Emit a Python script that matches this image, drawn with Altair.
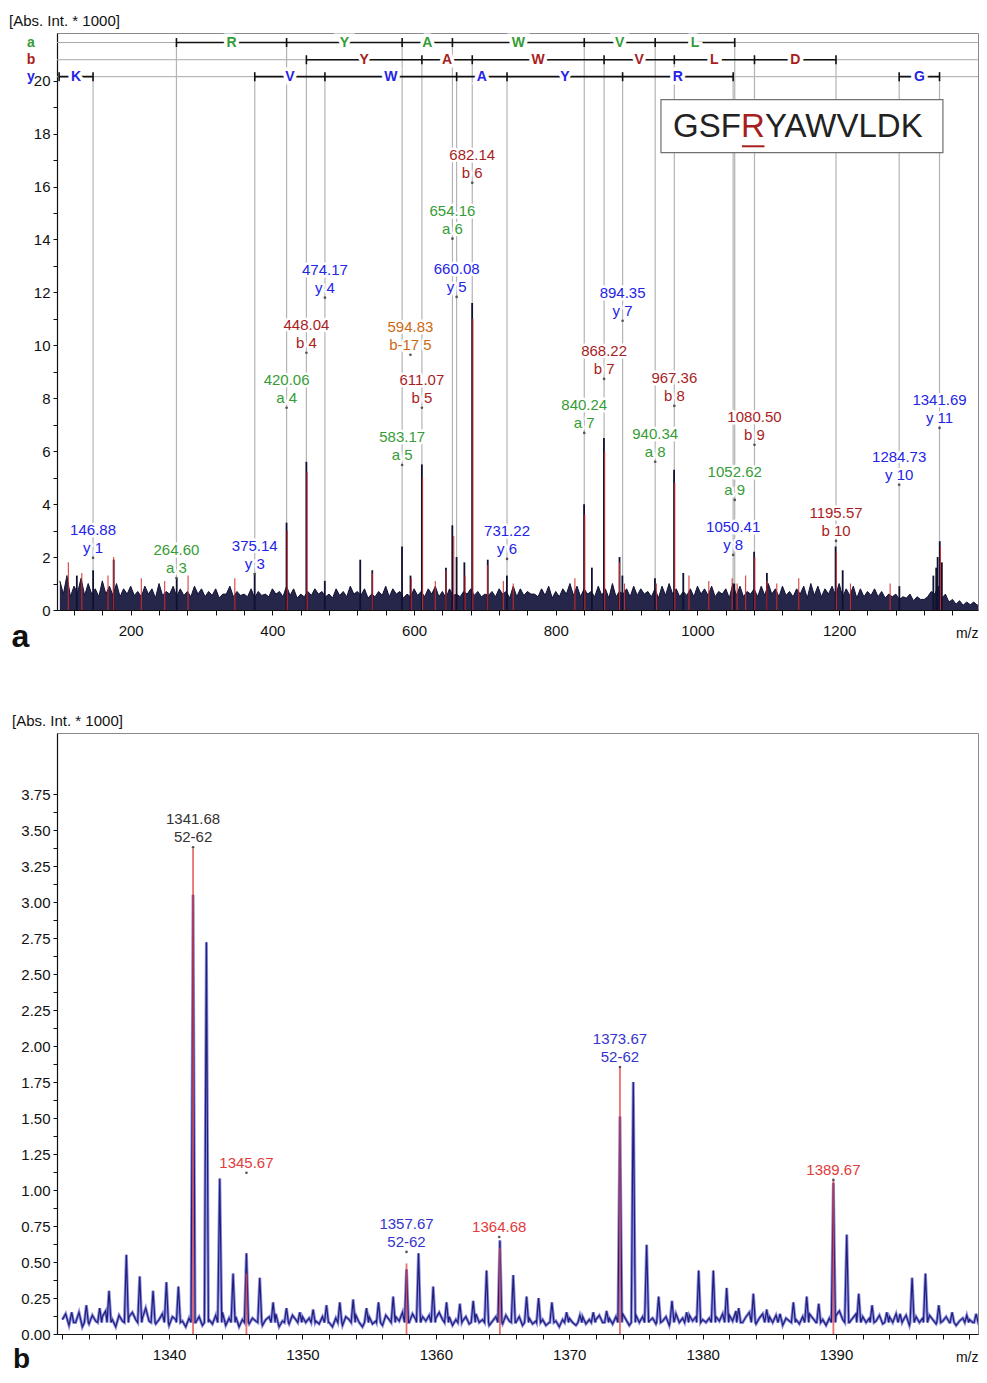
import altair as alt
import pandas as pd

FONT = "Liberation Sans"

# ====================== panel a : MS/MS spectrum ======================
A_XDOM = [96, 1396]
A_YDOM = [0, 21.8]
NOISE_A_START = 100

# noise envelope (tops every 10 m/z from 100, valleys every 10 m/z from 105)
noise_a_hi = [1.1, 1.3, 0.9, 1.2, 1.0, 0.8, 1.1, 0.9, 1.0, 0.8, 0.9, 0.7, 0.9, 0.8, 1.0, 0.7, 0.9, 0.8, 0.7, 0.9, 0.8,
              0.7, 0.8, 0.6, 0.9, 0.7, 0.6, 0.8, 0.7, 0.6, 0.8, 0.7, 0.9, 0.8, 0.6, 0.7, 0.8, 0.7, 0.6, 0.8, 0.7,
              0.9, 0.7, 0.8, 0.6, 0.7, 0.9, 0.8, 0.7, 0.6, 0.8, 0.7, 0.8, 0.9, 0.7, 0.8, 0.6, 0.7, 0.8, 0.7, 0.6,
              0.7, 0.8, 0.7, 0.9, 0.8, 0.7, 0.6, 0.8, 0.9, 0.7, 0.8, 1.0, 0.9, 0.8, 0.7, 0.9, 0.8, 1.0, 0.7, 0.8,
              0.9, 0.8, 0.7, 0.8, 0.9, 1.0, 0.8, 0.7, 0.8, 0.9,
              0.8, 0.9, 0.7, 0.8, 1.0, 0.9, 0.7, 0.8, 0.9, 1.0, 0.8, 0.9, 0.7, 0.8, 0.9, 1.0, 0.9, 0.8, 0.9, 1.0,
              0.8, 0.9, 0.8, 0.7, 0.8,
              0.7, 0.6, 0.6, 0.5, 0.6, 0.5, 0.4, 0.7, 0.9, 0.6, 0.4, 0.35, 0.3, 0.3, 0.3]
noise_a_lo = [0.6, 0.5, 0.65, 0.55, 0.6, 0.5, 0.6, 0.55, 0.5, 0.6, 0.55, 0.5, 0.6, 0.45, 0.55, 0.6, 0.5, 0.55, 0.5, 0.6,
              0.5, 0.55, 0.45, 0.6, 0.5, 0.55, 0.5, 0.45, 0.55, 0.5, 0.6, 0.5, 0.55, 0.45, 0.5, 0.55, 0.6, 0.5, 0.45, 0.55,
              0.5, 0.6, 0.55, 0.45, 0.5, 0.55, 0.5, 0.6, 0.45, 0.5, 0.55, 0.5, 0.6, 0.5, 0.45, 0.55, 0.5, 0.6, 0.55, 0.5,
              0.55, 0.5, 0.6, 0.45, 0.5, 0.55, 0.6, 0.5, 0.55, 0.45, 0.5, 0.6, 0.55, 0.5, 0.6, 0.5, 0.55, 0.45, 0.5, 0.6,
              0.5, 0.55, 0.6, 0.5, 0.45, 0.55, 0.6, 0.5, 0.55, 0.5, 0.6, 0.55, 0.5, 0.6, 0.45, 0.55, 0.5, 0.6, 0.5, 0.55,
              0.6, 0.5, 0.55, 0.5, 0.6, 0.45, 0.55, 0.5, 0.6, 0.55, 0.5, 0.55, 0.45, 0.5, 0.55, 0.5, 0.45, 0.5, 0.4, 0.45,
              0.35, 0.4, 0.5, 0.6, 0.45, 0.3, 0.22, 0.18, 0.2, 0.18]

peak_a_mz = [124, 147, 176, 265, 375, 420, 448, 474, 524, 541,
             583, 595, 611, 645, 654, 660, 671, 682, 704, 731,
             840, 851, 868, 890, 894, 940, 967, 980, 1052, 1080,
             1098, 1195, 1205, 1285, 1333, 1337, 1339, 1342, 1345]
peak_a_int = [1.3, 1.5, 1.9, 1.2, 1.4, 3.3, 5.6, 1.1, 1.9, 1.5,
              2.4, 1.3, 5.5, 1.6, 3.2, 2.0, 1.8, 11.6, 1.9, 1.3,
              4.0, 1.6, 6.5, 2.0, 1.3, 1.2, 5.3, 1.4, 1.0, 2.2,
              1.4, 2.4, 1.5, 0.9, 1.3, 1.6, 2.0, 2.6, 1.8]

red_a_mz = [112, 131, 168, 176, 215, 248, 281, 347, 421, 449, 541, 596, 612, 630, 645, 656, 672, 683,
            704, 726, 740, 827, 841, 869, 890, 897, 942, 968, 988, 1016, 1049, 1056, 1068, 1081, 1098,
            1112, 1143, 1196, 1216, 1272, 1343]
red_a_int = [1.8, 1.4, 1.3, 2.0, 1.2, 1.1, 1.3, 1.2, 3.0, 5.2, 1.4, 1.2, 5.0, 1.1, 1.5, 2.8, 1.3, 11.0,
             1.7, 1.1, 1.0, 1.2, 3.6, 6.0, 1.8, 1.0, 1.0, 4.8, 1.3, 1.1, 1.2, 1.0, 1.3, 2.0, 1.1,
             1.0, 1.2, 2.2, 1.0, 1.0, 2.4]

ann_a_mz = [146.88, 264.60, 375.14, 420.06, 448.04, 474.17, 583.17, 594.83, 611.07, 654.16, 660.08, 682.14,
            731.22, 840.24, 868.22, 894.35, 940.34, 967.36, 1050.41, 1052.62, 1080.50, 1195.57, 1284.73, 1341.69]
ann_a_ion = ["y 1", "a 3", "y 3", "a 4", "b 4", "y 4", "a 5", "b-17 5", "b 5", "a 6", "y 5", "b 6",
             "y 6", "a 7", "b 7", "y 7", "a 8", "b 8", "y 8", "a 9", "b 9", "b 10", "y 10", "y 11"]
ann_a_series = ["y", "a", "y", "a", "b", "y", "a", "b-17", "b", "a", "y", "b",
                "y", "a", "b", "y", "a", "b", "y", "a", "b", "b", "y", "y"]
ann_a_level = [1.97, 1.21, 1.36, 7.64, 9.72, 11.8, 5.48, 9.64, 7.64, 14.03, 11.83, 16.14,
               1.93, 6.69, 8.73, 10.93, 5.60, 7.71, 2.08, 4.16, 6.24, 2.61, 4.73, 6.88]

ladder_rows = ["a", "b", "y"]
ladder_levels = [21.44, 20.79, 20.15]
ladder_row = ["a"] * 6 + ["b"] * 6 + ["y"] * 7
ladder_start = [264.60, 420.06, 583.17, 654.16, 840.24, 940.34,
                448.04, 611.07, 682.14, 868.22, 967.36, 1080.50,
                99.0, 375.14, 474.17, 660.08, 731.22, 894.35, 1284.73]
ladder_end = [420.06, 583.17, 654.16, 840.24, 940.34, 1052.62,
              611.07, 682.14, 868.22, 967.36, 1080.50, 1195.57,
              146.88, 474.17, 660.08, 731.22, 894.35, 1050.41, 1341.69]
ladder_res = ["R", "Y", "A", "W", "V", "L",
              "Y", "A", "W", "V", "L", "D",
              "K", "V", "W", "A", "Y", "R", "G"]

sequence_parts = ["GSF", "R", "YAWVLDK"]

# ====================== panel b : MS spectrum ======================
B_XDOM = [1331.6, 1400.64]
B_YDOM = [0, 4.174]
NOISE_B_START = 1332.0

noise_b = [0.10, 0.14, 0.06, 0.12, 0.08, 0.15, 0.05, 0.11, 0.07, 0.13, 0.09, 0.06, 0.12, 0.16, 0.08, 0.10, 0.05, 0.13, 0.09, 0.07,
           0.12, 0.15, 0.10, 0.06, 0.11, 0.18, 0.09, 0.13, 0.07, 0.10, 0.14, 0.08, 0.06, 0.12, 0.10, 0.16, 0.09, 0.05, 0.11, 0.13,
           0.08, 0.12, 0.06, 0.14, 0.10, 0.07, 0.13, 0.09, 0.15, 0.06, 0.11, 0.08, 0.12, 0.05, 0.10, 0.14, 0.07, 0.11, 0.09, 0.13,
           0.06, 0.10, 0.12, 0.08, 0.14, 0.05, 0.09, 0.11, 0.07, 0.13, 0.10, 0.06, 0.12, 0.08, 0.11, 0.15, 0.09, 0.07, 0.12, 0.10,
           0.08, 0.05, 0.11, 0.09, 0.06, 0.12, 0.10, 0.07, 0.13, 0.08, 0.05, 0.10, 0.12, 0.07, 0.09, 0.11, 0.06, 0.13, 0.10, 0.08,
           0.12, 0.09, 0.15, 0.11, 0.08, 0.14, 0.10, 0.16, 0.12, 0.09, 0.13, 0.07, 0.11, 0.15, 0.10, 0.08, 0.12, 0.06, 0.10, 0.13,
           0.09, 0.12, 0.07, 0.11, 0.14, 0.08, 0.10, 0.13, 0.06, 0.09, 0.12, 0.10, 0.07, 0.13, 0.09, 0.11, 0.08, 0.12, 0.06, 0.10,
           0.11, 0.07, 0.09, 0.13, 0.10, 0.06, 0.08, 0.12, 0.09, 0.05, 0.10, 0.07, 0.11, 0.08, 0.06, 0.09, 0.12, 0.07, 0.10, 0.08,
           0.10, 0.13, 0.08, 0.15, 0.11, 0.07, 0.12, 0.09, 0.14, 0.10, 0.06, 0.11, 0.13, 0.08, 0.12, 0.16, 0.09, 0.11, 0.07, 0.13,
           0.09, 0.12, 0.06, 0.10, 0.14, 0.08, 0.11, 0.07, 0.13, 0.09, 0.12, 0.15, 0.10, 0.08, 0.11, 0.06, 0.12, 0.09, 0.14, 0.10,
           0.13, 0.09, 0.16, 0.11, 0.08, 0.12, 0.15, 0.10, 0.07, 0.11, 0.14, 0.09, 0.12, 0.08, 0.13, 0.10, 0.06, 0.11, 0.09, 0.12,
           0.10, 0.07, 0.12, 0.09, 0.14, 0.11, 0.08, 0.13, 0.10, 0.06, 0.11, 0.09, 0.13, 0.16, 0.10, 0.12, 0.08, 0.11, 0.14, 0.09,
           0.12, 0.08, 0.11, 0.15, 0.09, 0.13, 0.07, 0.10, 0.12, 0.08, 0.14, 0.11, 0.09, 0.13, 0.06, 0.10, 0.12, 0.08, 0.11, 0.09,
           0.13, 0.10, 0.07, 0.11, 0.09, 0.12, 0.08, 0.10, 0.06, 0.09, 0.11, 0.07, 0.10, 0.08, 0.06, 0.09, 0.07]

peak_b_mz = [1332.7, 1333.8, 1334.8, 1335.5, 1336.8, 1337.8, 1338.8, 1339.8, 1340.7, 1341.8,
             1342.8, 1343.8, 1344.8, 1345.8, 1346.8, 1347.8, 1348.8, 1349.8, 1350.8, 1351.8,
             1352.8, 1353.8, 1354.8, 1355.7, 1356.8, 1357.8, 1358.7, 1359.8, 1360.8, 1361.8,
             1362.8, 1363.8, 1364.8, 1365.8, 1366.8, 1367.7, 1368.7, 1369.8, 1370.8, 1371.8,
             1372.8, 1373.8, 1374.8, 1375.8, 1376.7, 1377.7, 1378.8, 1379.7, 1380.8, 1381.8,
             1382.7, 1383.8, 1384.8, 1385.8, 1386.8, 1387.8, 1388.7, 1389.8, 1390.8, 1391.7,
             1392.7, 1393.8, 1394.8, 1395.7, 1396.7, 1397.7, 1398.7, 1399.8, 1400.5]
peak_b_int = [0.15, 0.2, 0.18, 0.3, 0.55, 0.4, 0.3, 0.36, 0.33, 3.05,
              2.72, 1.08, 0.42, 0.56, 0.39, 0.22, 0.18, 0.15, 0.17, 0.2,
              0.22, 0.24, 0.18, 0.22, 0.26, 0.45, 0.56, 0.33, 0.22, 0.21,
              0.23, 0.44, 0.65, 0.41, 0.26, 0.25, 0.22, 0.15, 0.13, 0.15,
              0.16, 1.51, 1.75, 0.62, 0.26, 0.23, 0.15, 0.44, 0.44, 0.32,
              0.18, 0.28, 0.17, 0.14, 0.22, 0.26, 0.21, 1.05, 0.69, 0.28,
              0.2, 0.15, 0.14, 0.39, 0.42, 0.2, 0.15, 0.13, 0.14]

red_b_mz = [1341.8, 1345.8, 1357.8, 1364.8, 1373.8, 1389.8]
red_b_int = [3.37, 0.42, 0.49, 0.60, 1.86, 1.07]

ann_b_mz = [1341.8, 1345.8, 1357.8, 1364.75, 1373.8, 1389.8]
ann_b_text1 = ["1341.68", "1345.67", "1357.67", "1364.68", "1373.67", "1389.67"]
ann_b_text2 = ["52-62", "", "52-62", "", "52-62", ""]
ann_b_series = ["black", "red", "blue", "red", "blue", "red"]
ann_b_level = [3.38, 1.12, 0.57, 0.674, 1.854, 1.07]

# ---------------------------------------------------------------
series_domain = ["a", "b", "y", "b-17", "black", "red", "blue"]
series_range = ["#369c36", "#a81e1e", "#2424e6", "#cc6a14", "#333333", "#e03c3c", "#3434cc"]
COLOR = alt.Color("series:N", scale=alt.Scale(domain=series_domain, range=series_range), legend=None)

W_A, H_A = 921, 577
W_B, H_B = 921, 601

# ---------- panel a frames ----------
lvl = dict(zip(ladder_rows, ladder_levels))

na = pd.DataFrame({
    "mz": [NOISE_A_START + 10 * i for i in range(len(noise_a_hi))]
          + [NOISE_A_START + 5 + 10 * i for i in range(len(noise_a_lo))],
    "v": noise_a_hi + noise_a_lo,
}).sort_values("mz")
pk_a = pd.DataFrame({"mz": peak_a_mz, "v": peak_a_int, "v2": 0.0})
rd_a = pd.DataFrame({"mz": red_a_mz, "v": red_a_int, "v2": 0.0})

ann_a = pd.DataFrame({"mz": ann_a_mz, "v": ann_a_level, "series": ann_a_series,
                      "line1": [f"{m:.2f}" for m in ann_a_mz], "line2": ann_a_ion})
lead = pd.DataFrame([{"mz": m, "v": lvl[s], "v2": 0.0} for m, s in zip(ann_a_mz, ann_a_series) if s in lvl])
rowlines = pd.DataFrame({"mz": A_XDOM[0], "mz2": A_XDOM[1], "v": ladder_levels})
segs = pd.DataFrame({"mz": ladder_start, "mz2": ladder_end, "v": [lvl[r] for r in ladder_row], "series": ladder_row})
letters = pd.DataFrame({"mz": [(s + e) / 2 for s, e in zip(ladder_start, ladder_end)],
                        "v": [lvl[r] for r in ladder_row], "txt": ladder_res, "series": ladder_row})
tk = sorted(set([(r, s) for r, s in zip(ladder_row, ladder_start)] + [(r, e) for r, e in zip(ladder_row, ladder_end)]))
ticks = pd.DataFrame({"mz": [t[1] for t in tk], "v": [lvl[t[0]] - 0.17 for t in tk], "v2": [lvl[t[0]] + 0.17 for t in tk]})
rowlab = pd.DataFrame({"mz": 59.3, "v": ladder_levels, "txt": ladder_rows, "series": ladder_rows})

box = pd.DataFrame({"mz": [948.5], "mz2": [1346.5], "v": [17.28], "v2": [19.28]})
seq_y = 18.26
seq_left = pd.DataFrame({"mz": [1061.4], "v": [seq_y], "txt": [sequence_parts[0]]})
seq_mid = pd.DataFrame({"mz": [1078.4], "v": [seq_y], "txt": [sequence_parts[1]]})
seq_right = pd.DataFrame({"mz": [1095.3], "v": [seq_y], "txt": [sequence_parts[2]]})
underline = pd.DataFrame({"mz": [1062.8], "mz2": [1094.6], "v": [17.52]})

XA = alt.X("mz:Q", scale=alt.Scale(domain=A_XDOM, nice=False, zero=False),
           axis=alt.Axis(values=list(range(120, 1396, 40)),
                         labelExpr="(datum.value % 200 == 0 && datum.value < 1400) ? datum.label : ''", format="d",
                         title="m/z", titleX=W_A, titleY=23, titleAlign="right", titleBaseline="middle",
                         titleFontSize=14, titleFontWeight="normal"))
YA = alt.Y("v:Q", scale=alt.Scale(domain=A_YDOM, nice=False),
           axis=alt.Axis(values=list(range(0, 21)), labelExpr="datum.value % 2 == 0 ? datum.label : ''",
                         title="a", titleAngle=0, titleX=-37, titleY=603, titleAlign="center",
                         titleBaseline="middle", titleFontSize=32, titleFontWeight="bold"))
X2 = alt.X2("mz2:Q")
Y2 = alt.Y2("v2:Q")

la = []
la.append(alt.Chart(rowlines).mark_rule(color="#a8a8a8", strokeWidth=1).encode(x=XA, x2=X2, y=YA))
la.append(alt.Chart(lead).mark_rule(color="#b4b4b4", strokeWidth=1.2).encode(x=XA, y=YA, y2=Y2))
la.append(alt.Chart(na).mark_area(color="#1a1a40", opacity=0.95, clip=True).encode(x=XA, y=YA))
la.append(alt.Chart(na).mark_line(color="#121236", strokeWidth=1, clip=True).encode(x=XA, y=YA))
la.append(alt.Chart(pk_a).mark_rule(color="#101030", strokeWidth=1.8).encode(x=XA, y=YA, y2=Y2))
la.append(alt.Chart(rd_a).mark_rule(color="#d42a2a", strokeWidth=1.1, opacity=0.9).encode(x=XA, y=YA, y2=Y2))
# peak labels
for col, dy in (("line1", -28), ("line2", -10)):
    la.append(alt.Chart(ann_a).mark_text(dy=dy, fontSize=15, baseline="middle", stroke="white", strokeWidth=5,
                                         fill="white", strokeJoin="round").encode(x=XA, y=YA, text=f"{col}:N"))
for col, dy in (("line1", -28), ("line2", -10)):
    la.append(alt.Chart(ann_a).mark_text(dy=dy, fontSize=15, baseline="middle").encode(
        x=XA, y=YA, text=f"{col}:N", color=COLOR))
la.append(alt.Chart(ann_a).mark_point(filled=True, size=7, color="#555555", opacity=1).encode(x=XA, y=YA))
# sequence ladder
la.append(alt.Chart(segs).mark_rule(color="#111111", strokeWidth=1.6).encode(x=XA, x2=X2, y=YA))
la.append(alt.Chart(ticks).mark_rule(color="#111111", strokeWidth=1.6).encode(x=XA, y=YA, y2=Y2))
la.append(alt.Chart(letters).mark_text(fontSize=14, fontWeight="bold", baseline="middle", stroke="white",
                                       strokeWidth=7, fill="white").encode(x=XA, y=YA, text="txt:N"))
la.append(alt.Chart(letters).mark_text(fontSize=14, fontWeight="bold", baseline="middle").encode(
    x=XA, y=YA, text="txt:N", color=COLOR))
la.append(alt.Chart(rowlab).mark_text(fontSize=14, fontWeight="bold", baseline="middle").encode(
    x=XA, y=YA, text="txt:N", color=COLOR))
# sequence box
la.append(alt.Chart(box).mark_rect(fill="white", stroke="#707070", strokeWidth=1.2).encode(x=XA, x2=X2, y=YA, y2=Y2))
la.append(alt.Chart(seq_left).mark_text(fontSize=33, align="right", baseline="middle", color="#222222").encode(
    x=XA, y=YA, text="txt:N"))
la.append(alt.Chart(seq_mid).mark_text(fontSize=33, align="center", baseline="middle", color="#a81e1e").encode(
    x=XA, y=YA, text="txt:N"))
la.append(alt.Chart(seq_right).mark_text(fontSize=33, align="left", baseline="middle", color="#222222").encode(
    x=XA, y=YA, text="txt:N"))
la.append(alt.Chart(underline).mark_rule(color="#a81e1e", strokeWidth=2).encode(x=XA, x2=X2, y=YA))

panel_a = alt.layer(*la).properties(
    width=W_A, height=H_A,
    title=alt.TitleParams("[Abs. Int. * 1000]", anchor="start", frame="group", dx=-48, fontSize=15,
                          fontWeight="normal", offset=4, color="#111111"))

# ---------- panel b frames ----------
rows = []
for i, v in enumerate(noise_b):
    m = NOISE_B_START + 0.25 * i
    if min(abs(m - c) for c in peak_b_mz) > 0.2:
        rows.append((m, v))
for c, h in zip(peak_b_mz, peak_b_int):
    rows += [(c - 0.15, 0.08), (c, h), (c + 0.15, 0.08)]
spec_b = pd.DataFrame(rows, columns=["mz", "v"]).sort_values("mz")
rd_b = pd.DataFrame({"mz": red_b_mz, "v": red_b_int, "v2": 0.0})
ann_b = pd.DataFrame({"mz": ann_b_mz, "v": ann_b_level, "series": ann_b_series,
                      "top": [t1 if t2 else "" for t1, t2 in zip(ann_b_text1, ann_b_text2)],
                      "bottom": [t2 if t2 else t1 for t1, t2 in zip(ann_b_text1, ann_b_text2)]})

XB = alt.X("mz:Q", scale=alt.Scale(domain=B_XDOM, nice=False, zero=False),
           axis=alt.Axis(values=list(range(1332, 1401, 2)),
                         labelExpr="(datum.value % 10 == 0 && datum.value < 1400) ? datum.label : ''", format="d",
                         title="m/z", titleX=W_B, titleY=23, titleAlign="right", titleBaseline="middle",
                         titleFontSize=14, titleFontWeight="normal"))
YB = alt.Y("v:Q", scale=alt.Scale(domain=B_YDOM, nice=False),
           axis=alt.Axis(values=[0.125 * k for k in range(31)],
                         labelExpr="round(datum.value * 8) % 2 == 0 ? format(datum.value, '.2f') : ''",
                         title="b", titleAngle=0, titleX=-36, titleY=626, titleAlign="center",
                         titleBaseline="middle", titleFontSize=28, titleFontWeight="bold"))

lb = []
lb.append(alt.Chart(spec_b).mark_line(color="#8e8ee2", strokeWidth=3, clip=True).encode(x=XB, y=YB))
lb.append(alt.Chart(spec_b).mark_line(color="#1f1f78", strokeWidth=1.2, clip=True).encode(x=XB, y=YB))
lb.append(alt.Chart(rd_b).mark_rule(color="#e04040", strokeWidth=1.8, opacity=0.75).encode(x=XB, y=YB, y2=Y2))
lb.append(alt.Chart(ann_b).mark_text(dy=-28, fontSize=15, baseline="middle").encode(
    x=XB, y=YB, text="top:N", color=COLOR))
lb.append(alt.Chart(ann_b).mark_text(dy=-10, fontSize=15, baseline="middle").encode(
    x=XB, y=YB, text="bottom:N", color=COLOR))
lb.append(alt.Chart(ann_b).mark_point(filled=True, size=7, color="#555555", opacity=1).encode(x=XB, y=YB))

panel_b = alt.layer(*lb).properties(
    width=W_B, height=H_B,
    title=alt.TitleParams("[Abs. Int. * 1000]", anchor="start", frame="group", dx=-45, fontSize=15,
                          fontWeight="normal", offset=4, color="#111111"))

chart = alt.vconcat(panel_a, panel_b, spacing=60).properties(
    padding={"left": 0, "top": 5, "right": 0, "bottom": 0}
).configure(font=FONT).configure_view(stroke="#8a8a8a", strokeWidth=1).configure_axis(
    domainColor="#111111", domainWidth=1.2, tickColor="#111111", tickSize=5, labelPadding=8,
    labelFont=FONT, labelFontSize=15, labelColor="#111111", titleFont=FONT, titleColor="#111111", grid=False
).configure_axisY(labelPadding=3, tickSize=4)

chart.save("out.html", embed_options={"renderer": "svg", "actions": False})
